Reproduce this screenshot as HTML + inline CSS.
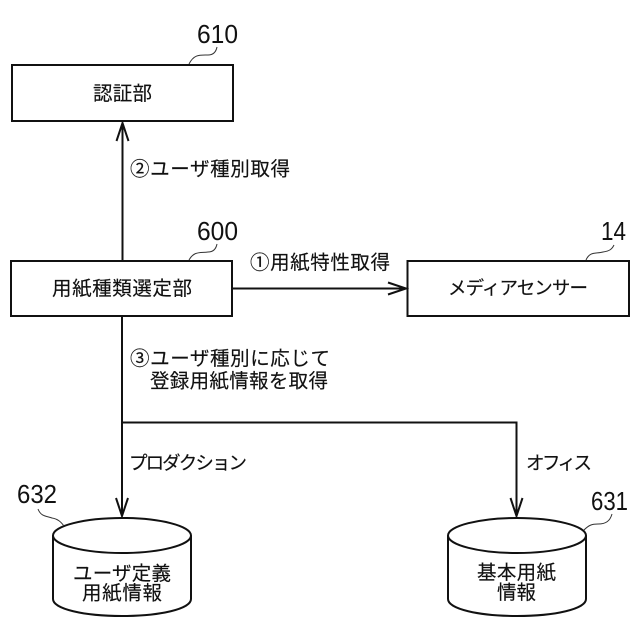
<!DOCTYPE html>
<html><head><meta charset="utf-8"><style>
html,body{margin:0;padding:0;background:#fff}
svg{display:block}
text{font-family:"Liberation Sans","Noto Sans CJK JP",sans-serif;fill:#111}
.t{font-size:19.5px;stroke:#111;stroke-width:.15px}
.k{font-size:18.5px;stroke:#111;stroke-width:.15px}
.n{font-size:26px}
.c{font-family:"Noto Sans CJK JP",sans-serif}
</style></head><body>
<svg width="640" height="640" viewBox="0 0 640 640" xmlns="http://www.w3.org/2000/svg">
<rect width="640" height="640" fill="#fff"/>
<g fill="none" stroke="#111" stroke-width="2">
<rect x="12" y="65" width="221" height="56"/>
<rect x="11" y="261" width="221" height="55"/>
<rect x="407.5" y="261" width="221.5" height="55"/>
<path d="M122.5 261V123M116.5 141L122.5 123L128.5 141"/>
<path d="M232 288.5H406M388 282.5L406 288.5L388 294.5"/>
<path d="M122 316V516M116 498L122 516L128 498"/>
<path d="M122 422.5H516.5V516M510.5 498L516.5 516L522.5 498"/>
<path d="M53 535.5C53 526 84 518 122 518S191 526 191 535.5C191 545 160 553 122 553S53 545 53 535.5V599C53 609 84 616 122 616S191 609 191 599V535.5"/>
<path d="M448 535.5C448 526 479 518 517 518S586 526 586 535.5C586 545 555 553 517 553S448 545 448 535.5V599C448 609 479 616 517 616S586 609 586 599V535.5"/>
</g>
<g fill="none" stroke="#333" stroke-width="1">
<path d="M189 64C194 54 200 55 208 55C213 55 216 52 217 47"/>
<path d="M189 260C194 251 200 253 208 252C213 252 216 249 217 244"/>
<path d="M586 260C590 251 596 254 603 252C610 251 612 249 614 245"/>
<path d="M38 509C41 517 47 516 52 518C58 519 61 522 64 526"/>
<path d="M584 530C589 525 592 524 598 524C606 524 610 521 612 514"/>
</g>
<text class="n" x="197" y="43" textLength="41" lengthAdjust="spacingAndGlyphs">610</text>
<text class="n" x="197" y="240" textLength="41" lengthAdjust="spacingAndGlyphs">600</text>
<text class="n" x="601" y="240" textLength="25" lengthAdjust="spacingAndGlyphs">14</text>
<text class="n" x="17" y="503" textLength="40" lengthAdjust="spacingAndGlyphs">632</text>
<text class="n" x="591" y="510" textLength="37" lengthAdjust="spacingAndGlyphs">631</text>
<text class="t" x="93" y="100" textLength="59">認証部</text>
<text class="t" x="52" y="295" textLength="140">用紙種類選定部</text>
<text class="k" x="448" y="294.5" textLength="140">メディアセンサー</text>
<text class="t" x="130" y="175.5" textLength="160"><tspan class="c">②</tspan>ユーザ種別取得</text>
<text class="t" x="250" y="269" textLength="140"><tspan class="c">①</tspan>用紙特性取得</text>
<text class="t" x="130" y="365" textLength="200"><tspan class="c">③</tspan>ユーザ種別に応じて</text>
<text class="t" x="150" y="387.5" textLength="178">登録用紙情報を取得</text>
<text class="k" x="129" y="469.5" textLength="118">プロダクション</text>
<text class="k" x="526" y="469.5" textLength="66">オフィス</text>
<text class="t" x="73" y="580" textLength="98">ユーザ定義</text>
<text class="t" x="82" y="599.5" textLength="80">用紙情報</text>
<text class="t" x="477" y="579" textLength="79">基本用紙</text>
<text class="t" x="497" y="599" textLength="39">情報</text>
</svg>
</body></html>
